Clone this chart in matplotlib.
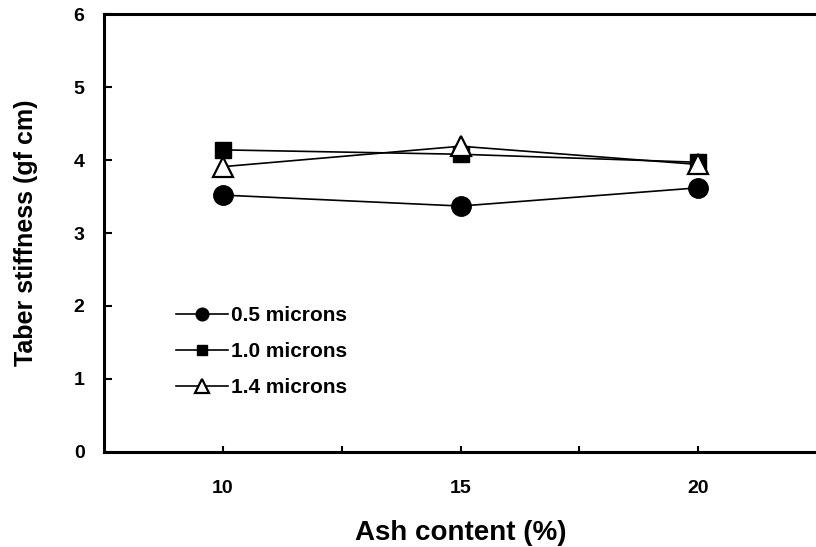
import matplotlib.pyplot as plt

plt.rcParams['font.family'] = ['Liberation Sans', 'DejaVu Sans']
plt.rcParams['font.weight'] = 'bold'

ash = [10, 15, 20]
series_labels = ["0.5 microns", "1.0 microns", "1.4 microns"]
stiff_05 = [3.52, 3.37, 3.62]
stiff_10 = [4.14, 4.08, 3.97]
stiff_14 = [3.91, 4.19, 3.94]

fig = plt.figure(figsize=(8.16, 5.47), dpi=100)
ax = fig.add_axes([0.1275, 0.174, 0.874, 0.8])

ax.plot(ash, stiff_05, color="black", lw=1.2, marker="o", ms=14,
        mfc="black", mec="black", label=series_labels[0])
ax.plot(ash, stiff_10, color="black", lw=1.2, marker="s", ms=12,
        mfc="black", mec="black", label=series_labels[1])
ax.plot(ash, stiff_14, color="black", lw=1.2, marker="^", ms=15,
        mfc="white", mec="black", mew=1.6, label=series_labels[2])

ax.set_xlim(7.5, 22.5)
ax.set_ylim(0, 6)
ax.set_xticks([10, 15, 20])
ax.set_xticks([12.5, 17.5], minor=True)
ax.set_yticks(range(7))

ax.tick_params(axis="x", which="both", direction="in", length=4, width=1.5,
               labelsize=14, pad=20)
ax.tick_params(axis="y", direction="in", length=6, width=1.5,
               labelsize=14, pad=14)
for lbl in ax.get_xticklabels() + ax.get_yticklabels():
    lbl.set_fontweight("bold")

for sp in ax.spines.values():
    sp.set_linewidth(2.2)
ax.spines["right"].set_visible(False)

ax.set_xlabel("Ash content (%)", fontsize=20, fontweight="bold", labelpad=17)
ax.set_ylabel("Taber stiffness (gf cm)", fontsize=18, fontweight="bold", labelpad=26)

leg = ax.legend(loc="upper left", bbox_to_anchor=(0.075, 0.375), frameon=False,
                fontsize=15, handlelength=2.5, handletextpad=0.15,
                labelspacing=0.8, markerscale=0.65)
for t in leg.get_texts():
    t.set_fontweight("bold")

fig.savefig("out.png", dpi=100)
